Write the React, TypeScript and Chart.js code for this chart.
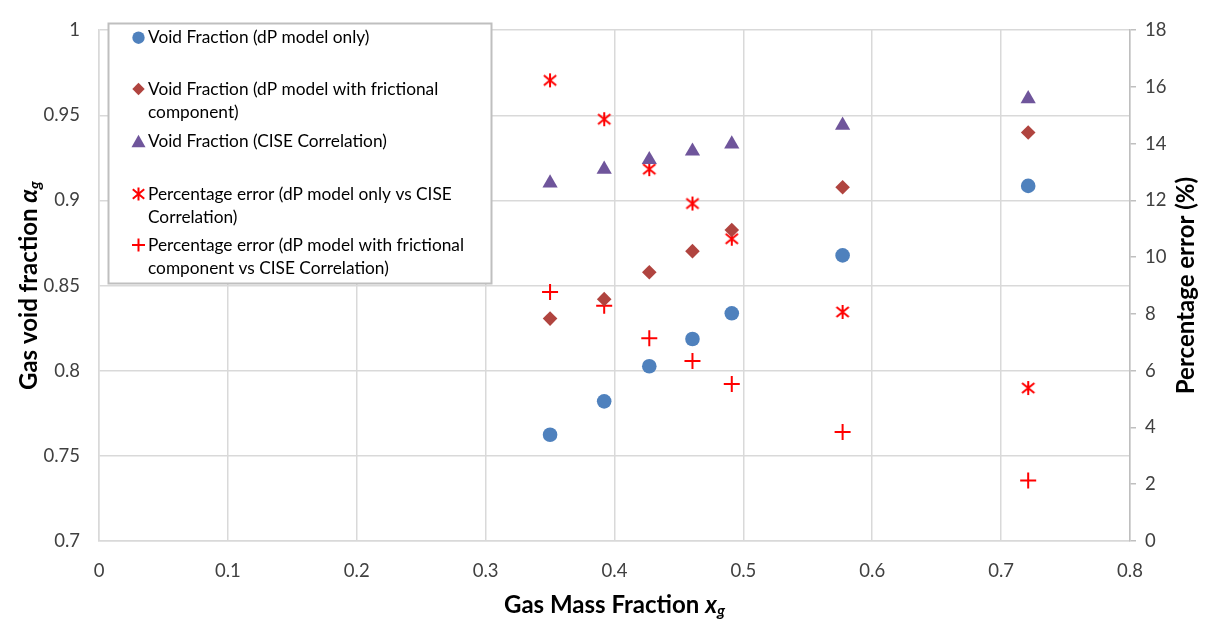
import React, { useEffect, useRef } from "react";
import { Chart, registerables } from "chart.js";

Chart.register(...registerables);

// ---- data ----
const gasMassFraction = [0.35, 0.392, 0.427, 0.4605, 0.491, 0.577, 0.721];
const voidDpOnly = [0.7624, 0.782, 0.8026, 0.8186, 0.8337, 0.8677, 0.9085];
const voidDpFriction = [0.8306, 0.842, 0.8578, 0.8702, 0.8826, 0.9077, 0.9399];
const voidCise = [0.9102, 0.9182, 0.9239, 0.9289, 0.9331, 0.9441, 0.9597];
const errDpOnly = [16.23, 14.86, 13.1, 11.89, 10.65, 8.07, 5.39];
const errDpFriction = [8.77, 8.29, 7.14, 6.34, 5.53, 3.84, 2.13];

const seriesLabels = [
  "Void Fraction (dP model only)",
  "Void Fraction (dP model with frictional component)",
  "Void Fraction (CISE Correlation)",
  "Percentage error (dP model only vs CISE Correlation)",
  "Percentage error (dP model with frictional component vs CISE Correlation)",
];
const legendLines = [
  ["Void Fraction (dP model only)"],
  ["Void Fraction (dP model with frictional", "component)"],
  ["Void Fraction (CISE Correlation)"],
  ["Percentage error (dP model only vs CISE", "Correlation)"],
  ["Percentage error (dP model with frictional", "component vs CISE Correlation)"],
];
const xTickLabels = ["0", "0.1", "0.2", "0.3", "0.4", "0.5", "0.6", "0.7", "0.8"];
const leftTickLabels = ["0.7", "0.75", "0.8", "0.85", "0.9", "0.95", "1"];
const rightTickLabels = ["0", "2", "4", "6", "8", "10", "12", "14", "16", "18"];

const COLORS = {
  blue: "#4F81BD",
  red: "#B0443F",
  purple: "#6F559B",
  err: "#FF0000",
};

const FONT = "Lato, 'Open Sans', sans-serif";

function pts(ys: number[]) {
  return gasMassFraction.map((x, i) => ({ x, y: ys[i] }));
}

function nearestLabel(labels: string[], v: number) {
  const hit = labels.find((l) => Math.abs(parseFloat(l) - v) < 1e-6);
  return hit !== undefined ? hit : "";
}

function drawStar(ctx: CanvasRenderingContext2D, x: number, y: number, r: number, color: string, lw: number) {
  ctx.save();
  ctx.strokeStyle = color;
  ctx.lineWidth = lw;
  ctx.beginPath();
  const dx = r * 0.88;
  const dy = r * 0.72;
  ctx.moveTo(x - dx, y - dy);
  ctx.lineTo(x + dx, y + dy);
  ctx.moveTo(x + dx, y - dy);
  ctx.lineTo(x - dx, y + dy);
  ctx.moveTo(x, y - r);
  ctx.lineTo(x, y + r);
  ctx.stroke();
  ctx.restore();
}

function makeStarCanvas(r: number) {
  const c = document.createElement("canvas");
  const s = Math.ceil(r * 2 + 4);
  c.width = s;
  c.height = s;
  const ctx = c.getContext("2d")!;
  drawStar(ctx, s / 2, s / 2, r, COLORS.err, 2);
  return c;
}

function drawMarker(ctx: CanvasRenderingContext2D, kind: string, x: number, y: number, r: number, color: string) {
  ctx.save();
  ctx.fillStyle = color;
  ctx.strokeStyle = color;
  ctx.beginPath();
  if (kind === "circle") {
    ctx.arc(x, y, r, 0, Math.PI * 2);
    ctx.fill();
  } else if (kind === "diamond") {
    ctx.moveTo(x - r, y);
    ctx.lineTo(x, y - r);
    ctx.lineTo(x + r, y);
    ctx.lineTo(x, y + r);
    ctx.closePath();
    ctx.fill();
  } else if (kind === "triangle") {
    ctx.moveTo(x, y - r);
    ctx.lineTo(x + r, y + r * 0.8);
    ctx.lineTo(x - r, y + r * 0.8);
    ctx.closePath();
    ctx.fill();
  } else if (kind === "star") {
    ctx.restore();
    drawStar(ctx, x, y, r, color, 2);
    return;
  } else if (kind === "plus") {
    ctx.lineWidth = 2;
    ctx.moveTo(x - r, y);
    ctx.lineTo(x + r, y);
    ctx.moveTo(x, y - r);
    ctx.lineTo(x, y + r);
    ctx.stroke();
  }
  ctx.restore();
}

type Part = { text: string; font: string; dy?: number };

function drawRich(ctx: CanvasRenderingContext2D, parts: Part[], cx: number, cy: number, rotate: boolean) {
  ctx.save();
  ctx.fillStyle = "#000";
  ctx.textBaseline = "middle";
  ctx.textAlign = "left";
  let total = 0;
  const widths = parts.map((p) => {
    ctx.font = p.font;
    const w = ctx.measureText(p.text).width;
    total += w;
    return w;
  });
  ctx.translate(cx, cy);
  if (rotate) ctx.rotate(-Math.PI / 2);
  let x = -total / 2;
  parts.forEach((p, i) => {
    ctx.font = p.font;
    ctx.fillText(p.text, x, p.dy || 0);
    x += widths[i];
  });
  ctx.restore();
}

const overlayPlugin = {
  id: "overlay",
  afterDraw(chart: any) {
    const ctx: CanvasRenderingContext2D = chart.ctx;
    const a = chart.chartArea;

    // Legend box
    const bx = 108.5, by = 23.5, bw = 383, bh = 260;
    ctx.save();
    ctx.fillStyle = "#FFFFFF";
    ctx.fillRect(bx, by, bw, bh);
    ctx.strokeStyle = "#BFBFBF";
    ctx.lineWidth = 2;
    ctx.strokeRect(bx, by, bw, bh);
    ctx.restore();

    const kinds = ["circle", "diamond", "triangle", "star", "plus"];
    const colors = [COLORS.blue, COLORS.red, COLORS.purple, COLORS.err, COLORS.err];
    const sizes = [6.2, 6.2, 7, 6.5, 6.5];
    const rowY = [37.7, 89, 141.7, 194, 245];
    const lineH = 23.5;
    ctx.save();
    ctx.font = `17.3px ${FONT}`;
    ctx.fillStyle = "#000";
    ctx.textBaseline = "middle";
    ctx.textAlign = "left";
    legendLines.forEach((lines, i) => {
      drawMarker(ctx, kinds[i], 138.5, rowY[i], sizes[i], colors[i]);
      lines.forEach((t, j) => {
        ctx.fillText(t, 148, rowY[i] + j * lineH);
      });
    });
    ctx.restore();

    // Axis titles
    const bold = `bold 24px ${FONT}`;
    const boldIt = `italic bold 24px ${FONT}`;
    const sub = `italic bold 16px ${FONT}`;
    const midY = (a.top + a.bottom) / 2;
    drawRich(
      ctx,
      [
        { text: "Gas void fraction ", font: bold },
        { text: "α", font: boldIt },
        { text: "g", font: sub, dy: 6 },
      ],
      29,
      midY,
      true
    );
    drawRich(ctx, [{ text: "Percentage error (%)", font: bold }], 1186, midY, true);
    drawRich(
      ctx,
      [
        { text: "Gas Mass Fraction ", font: bold },
        { text: "x", font: boldIt },
        { text: "g", font: sub, dy: 6 },
      ],
      (a.left + a.right) / 2,
      605,
      false
    );
  },
};

export default function App() {
  const ref = useRef<HTMLCanvasElement | null>(null);

  useEffect(() => {
    if (!ref.current) return;
    const star = makeStarCanvas(7);
    const tickFont = { family: FONT, size: 18.5 };
    const chart = new Chart(ref.current, {
      type: "scatter",
      data: {
        datasets: [
          {
            label: seriesLabels[0],
            data: pts(voidDpOnly),
            yAxisID: "y",
            pointStyle: "circle",
            pointRadius: 7.3,
            backgroundColor: COLORS.blue,
            borderColor: COLORS.blue,
            borderWidth: 0,
          },
          {
            label: seriesLabels[1],
            data: pts(voidDpFriction),
            yAxisID: "y",
            pointStyle: "rectRot",
            pointRadius: 7.3,
            backgroundColor: COLORS.red,
            borderColor: COLORS.red,
            borderWidth: 0,
          },
          {
            label: seriesLabels[2],
            data: pts(voidCise),
            yAxisID: "y",
            pointStyle: "triangle",
            pointRadius: 8.8,
            backgroundColor: COLORS.purple,
            borderColor: COLORS.purple,
            borderWidth: 0,
          },
          {
            label: seriesLabels[3],
            data: pts(errDpOnly),
            yAxisID: "y1",
            pointStyle: star as any,
            pointRadius: 8,
            backgroundColor: COLORS.err,
            borderColor: COLORS.err,
            borderWidth: 0,
          },
          {
            label: seriesLabels[4],
            data: pts(errDpFriction),
            yAxisID: "y1",
            pointStyle: "cross",
            pointRadius: 8,
            backgroundColor: COLORS.err,
            borderColor: COLORS.err,
            borderWidth: 2,
          },
        ],
      },
      options: {
        responsive: false,
        animation: false,
        layout: { padding: { top: 16, left: 0, right: 0, bottom: 0 } },
        plugins: {
          legend: { display: false },
          tooltip: { enabled: false },
          title: { display: false },
        },
        scales: {
          x: {
            type: "linear",
            min: 0,
            max: 0.8,
            afterFit: (s: any) => {
              s.height = 84;
            },
            ticks: {
              stepSize: 0.1,
              font: tickFont,
              color: "#404040",
              padding: 19,
              callback: (v: any) => nearestLabel(xTickLabels, Number(v)),
            },
            grid: { color: "#D9D9D9", lineWidth: 1.5, drawTicks: false },
            border: { color: "#D9D9D9", width: 1.5 },
          },
          y: {
            type: "linear",
            position: "left",
            min: 0.7,
            max: 1,
            afterFit: (s: any) => {
              s.width = 99;
            },
            ticks: {
              stepSize: 0.05,
              font: tickFont,
              color: "#404040",
              padding: 19,
              callback: (v: any) => nearestLabel(leftTickLabels, Number(v)),
            },
            grid: { color: "#D9D9D9", lineWidth: 1.5, drawTicks: false },
            border: { color: "#D9D9D9", width: 1.5 },
          },
          y1: {
            type: "linear",
            position: "right",
            min: 0,
            max: 18,
            afterFit: (s: any) => {
              s.width = 76;
            },
            ticks: {
              stepSize: 2,
              font: tickFont,
              color: "#404040",
              padding: 9,
              callback: (v: any) => nearestLabel(rightTickLabels, Number(v)),
            },
            grid: {
              drawOnChartArea: false,
              drawTicks: true,
              tickLength: 6,
              color: "#BFBFBF",
              lineWidth: 1.5,
            },
            border: { color: "#BFBFBF", width: 1.5 },
          },
        },
      } as any,
      plugins: [overlayPlugin],
    });
    return () => chart.destroy();
  }, []);

  return (
    <div style={{ position: "fixed", left: 0, top: 0, width: 1206, height: 625, background: "#fff" }}>
      <canvas ref={ref} width={1206} height={625} style={{ display: "block" }} />
    </div>
  );
}
